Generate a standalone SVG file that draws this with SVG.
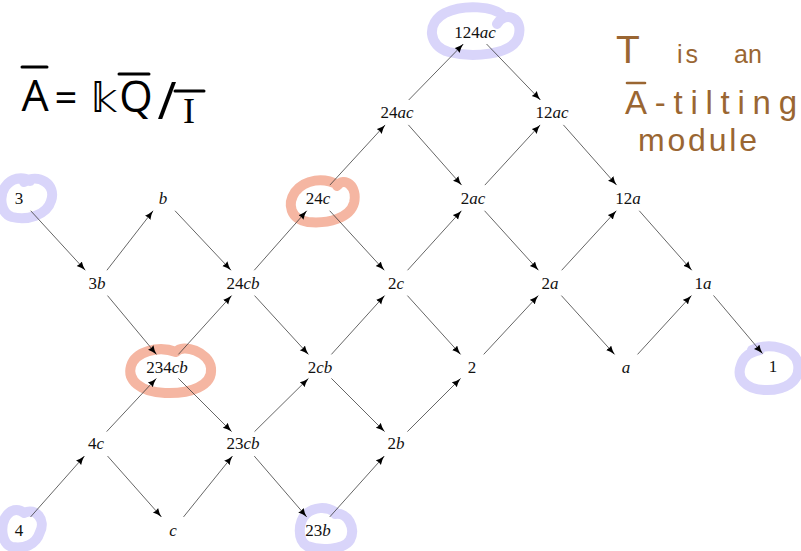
<svg xmlns="http://www.w3.org/2000/svg" width="801" height="551" viewBox="0 0 801 551">
<style>
.n{font-family:"Liberation Serif","Times New Roman",serif;font-size:17px;fill:#111;text-anchor:middle}
.i{font-style:italic}
.e line{stroke:#333;stroke-width:0.75;marker-end:url(#ah)}
.hl{fill:none;stroke-width:10;stroke-linecap:round;stroke-linejoin:round}
.lav{stroke:#d9d5fa}
.sal{stroke:#f5b6a2}
.hw{font-family:"Open Sans","Noto Sans",sans-serif;font-weight:400;fill:#000}
.br{font-family:"Liberation Sans",Arial,sans-serif;font-weight:400;fill:#9a6632}
.bk{stroke:#000;stroke-width:3;stroke-linecap:round}
.bb{stroke:#9a6632;stroke-width:2.6;stroke-linecap:round}
</style>
<defs>
<marker id="ah" markerUnits="userSpaceOnUse" markerWidth="10" markerHeight="8" refX="9" refY="3.5" orient="auto">
<path d="M0,0 Q4,2.5 9,3.5 Q4,4.5 0,7 Q1.5,3.5 0,0 z" fill="#000"/>
</marker>
</defs>
<rect width="801" height="551" fill="#fff"/>

<g id="highlights">
<path class="hl lav" d="M497 24 C505 10,525 18,518 38 C511 55,472 58,449 52 C428 46,426 23,445 13 C464 4,494 6,503 16"/>
<path class="hl lav" d="M24 182 C38 173,57 184,51 201 C47 215,27 221,12 217 C0 213,-1 196,5 187 C11 178,22 176,30 181"/>
<path class="hl lav" d="M24 513 C36 507,46 520,40 532 C36 545,24 549,12 547 C2 544,0 528,5 518 C10 509,18 508,24 513"/>
<path class="hl lav" d="M335 514 C348 512,356 528,350 540 C344 550,320 551,307 546 C297 540,298 522,306 514 C314 507,326 506,335 512"/>
<path class="hl lav" d="M752 350 C770 342,795 348,798 364 C801 382,784 391,764 390 C745 389,736 378,741 365 C744 356,750 352,760 350"/>
<path class="hl sal" d="M337 186 C344 176,358 186,354 203 C350 218,328 224,308 222 C290 219,287 204,295 192 C305 179,324 177,338 185"/>
<path class="hl sal" d="M176 352 C183 343,209 352,211 368 C213 386,190 394,165 393 C140 392,127 380,131 366 C135 352,158 345,176 352"/>
</g>

<g id="formula">
<text class="hw" x="35" y="111" font-size="43" text-anchor="middle">A</text>
<line class="bk" x1="22" y1="67" x2="47" y2="67"/>
<text class="hw" x="66" y="112" font-size="40" text-anchor="middle">=</text>
<text class="hw" x="104" y="112" font-size="40" text-anchor="middle" style="font-family:'DejaVu Sans',sans-serif">𝕜</text>
<text class="hw" x="136" y="112" font-size="43" text-anchor="middle">Q</text>
<line class="bk" x1="119" y1="74" x2="149" y2="74"/>
<text class="hw" x="167" y="119" font-size="52" text-anchor="middle">/</text>
<line class="bk" x1="175" y1="91" x2="204" y2="91"/>
<text class="hw" x="189" y="123" font-size="36" text-anchor="middle" style="font-family:'Liberation Serif',serif">I</text>
</g>

<g id="note">
<text class="br" x="616" y="63" font-size="39">T</text>
<text class="br" x="677" y="63" font-size="25" letter-spacing="3">is</text>
<text class="br" x="734" y="63" font-size="25">an</text>
<line class="bb" x1="627" y1="83" x2="645" y2="83"/>
<text class="br" x="625" y="114" font-size="33" textLength="172" lengthAdjust="spacing">A-tilting</text>
<text class="br" x="638" y="151" font-size="32" textLength="119" lengthAdjust="spacing">module</text>
</g>

<g id="connectors" class="e">
<line x1="30.7" y1="210.75" x2="85.3" y2="270.25"/>
<line x1="106.9" y1="270.25" x2="153.1" y2="210.75"/>
<line x1="175" y1="210.75" x2="231" y2="270.25"/>
<line x1="107.5" y1="295.6" x2="156.5" y2="354.4"/>
<line x1="178.4" y1="354.4" x2="231.6" y2="295.6"/>
<line x1="254.25" y1="270.25" x2="306.75" y2="210.75"/>
<line x1="329.85" y1="185.1" x2="385.15" y2="124.9"/>
<line x1="408.7" y1="100" x2="463.3" y2="44"/>
<line x1="486.55" y1="44" x2="540.45" y2="100"/>
<line x1="408.4" y1="124.9" x2="461.6" y2="185.1"/>
<line x1="484.85" y1="185.1" x2="540.15" y2="124.9"/>
<line x1="563.4" y1="124.9" x2="616.6" y2="185.1"/>
<line x1="329.7" y1="210.75" x2="384.3" y2="270.25"/>
<line x1="407.55" y1="270.25" x2="461.45" y2="210.75"/>
<line x1="484.55" y1="210.75" x2="538.45" y2="270.25"/>
<line x1="561.7" y1="270.25" x2="616.3" y2="210.75"/>
<line x1="639.25" y1="210.75" x2="691.75" y2="270.25"/>
<line x1="254.55" y1="295.6" x2="308.45" y2="354.4"/>
<line x1="331.4" y1="354.4" x2="384.6" y2="295.6"/>
<line x1="407.4" y1="295.6" x2="460.6" y2="354.4"/>
<line x1="483.7" y1="354.4" x2="538.3" y2="295.6"/>
<line x1="561.4" y1="295.6" x2="614.6" y2="354.4"/>
<line x1="637.55" y1="354.4" x2="691.45" y2="295.6"/>
<line x1="713.5" y1="295.45" x2="762.5" y2="353.55"/>
<line x1="178.4" y1="378.4" x2="231.6" y2="431.6"/>
<line x1="254.55" y1="431.6" x2="308.45" y2="378.4"/>
<line x1="331.4" y1="378.4" x2="384.6" y2="431.6"/>
<line x1="407.4" y1="431.6" x2="460.6" y2="378.4"/>
<line x1="106.65" y1="431.6" x2="156.35" y2="378.4"/>
<line x1="30.55" y1="516.95" x2="84.45" y2="456.05"/>
<line x1="107.55" y1="456.05" x2="161.45" y2="516.95"/>
<line x1="183.5" y1="516.95" x2="232.5" y2="456.05"/>
<line x1="254.25" y1="456.05" x2="306.75" y2="516.95"/>
<line x1="329.7" y1="516.95" x2="384.3" y2="456.05"/>
</g>

<g id="n124ac"><text class="n" x="475" y="38">124<tspan class="i">ac</tspan></text></g>
<g id="n24ac"><text class="n" x="397" y="118">24<tspan class="i">ac</tspan></text></g>
<g id="n12ac"><text class="n" x="552" y="118">12<tspan class="i">ac</tspan></text></g>
<g id="n3"><text class="n" x="19" y="204">3</text></g>
<g id="nb"><text class="n" x="163" y="204"><tspan class="i">b</tspan></text></g>
<g id="n24c"><text class="n" x="318" y="204">24<tspan class="i">c</tspan></text></g>
<g id="n2ac"><text class="n" x="473" y="204">2<tspan class="i">ac</tspan></text></g>
<g id="n12a"><text class="n" x="628" y="204">12<tspan class="i">a</tspan></text></g>
<g id="n3b"><text class="n" x="97" y="289">3<tspan class="i">b</tspan></text></g>
<g id="n24cb"><text class="n" x="243" y="289">24<tspan class="i">cb</tspan></text></g>
<g id="n2c"><text class="n" x="396" y="289">2<tspan class="i">c</tspan></text></g>
<g id="n2a"><text class="n" x="550" y="289">2<tspan class="i">a</tspan></text></g>
<g id="n1a"><text class="n" x="703" y="289">1<tspan class="i">a</tspan></text></g>
<g id="n234cb"><text class="n" x="167" y="373">234<tspan class="i">cb</tspan></text></g>
<g id="n2cb"><text class="n" x="320" y="373">2<tspan class="i">cb</tspan></text></g>
<g id="n2"><text class="n" x="472" y="373">2</text></g>
<g id="na"><text class="n" x="626" y="373"><tspan class="i">a</tspan></text></g>
<g id="n1"><text class="n" x="773" y="372">1</text></g>
<g id="n4c"><text class="n" x="96" y="449">4<tspan class="i">c</tspan></text></g>
<g id="n23cb"><text class="n" x="243" y="449">23<tspan class="i">cb</tspan></text></g>
<g id="n2b"><text class="n" x="396" y="449">2<tspan class="i">b</tspan></text></g>
<g id="n4"><text class="n" x="19" y="536">4</text></g>
<g id="nc"><text class="n" x="173" y="536"><tspan class="i">c</tspan></text></g>
<g id="n23b"><text class="n" x="318" y="536">23<tspan class="i">b</tspan></text></g>
</svg>
